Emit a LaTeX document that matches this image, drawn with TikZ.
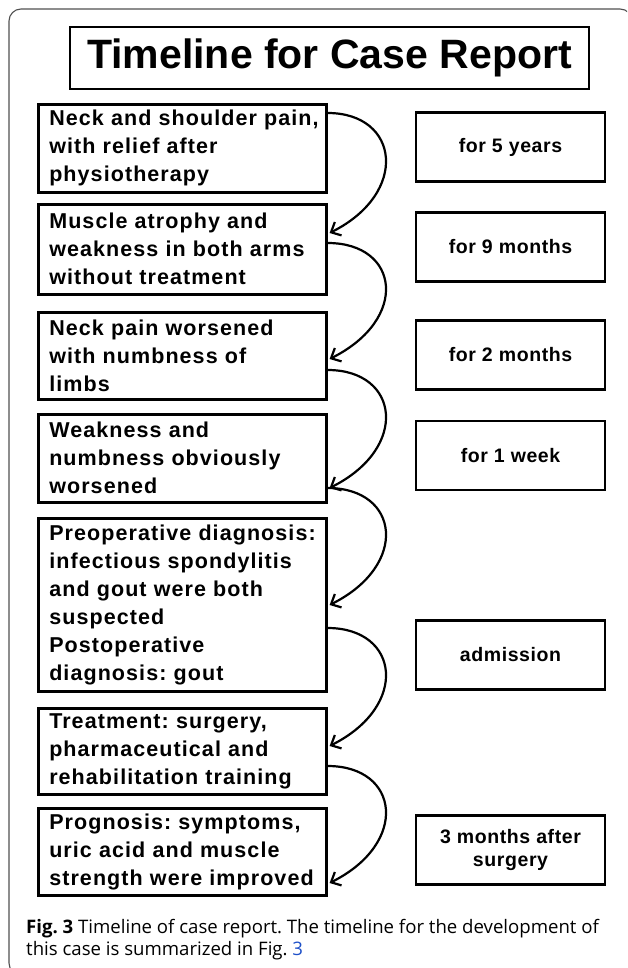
\documentclass[tikz,border=0pt]{standalone}
\usepackage{fontspec}
\setmainfont{Liberation Sans}
\newfontfamily\boxfont[LetterSpace=5]{Liberation Sans}
\newfontfamily\rfont[LetterSpace=3]{Liberation Sans}
\newfontfamily\capfont{Open Sans}
\usetikzlibrary{arrows.meta,calc}
\definecolor{linkblue}{RGB}{30,80,200}
\definecolor{framegray}{RGB}{80,80,80}
\frenchspacing
\tikzset{
  lbox/.style={draw, line width=2.6pt, anchor=north west, minimum width=288pt,
    text width=266pt, inner xsep=11pt, inner ysep=0pt, align=left,
    font={\boxfont\bfseries\fontsize{21.5}{28}\selectfont}},
  rbox/.style={draw, line width=2.6pt, minimum width=189pt, minimum height=69pt,
    inner sep=0pt, align=center, font={\rfont\bfseries\fontsize{19.5}{23}\selectfont}},
  titlebox/.style={draw, line width=2.6pt, minimum width=519pt, minimum height=62pt,
    inner sep=0pt, font={\bfseries\fontsize{41}{48}\selectfont}},
  conn/.style={line width=2.2pt, -{Straight Barb[length=8pt,width=15pt]}},
  captext/.style={anchor=base west, inner sep=0pt, font={\capfont\fontsize{18.6}{22}\selectfont}}
}
\newcommand{\Ln}[1]{\mbox{#1}}
\begin{document}
\begin{tikzpicture}[x=1pt,y=-1pt]
\useasboundingbox (0,0) rectangle (627,968);
\clip (0,0) rectangle (627,968);
\draw[framegray, line width=1.1pt, rounded corners=12pt] (9,9) rectangle (632,975);

\node[titlebox] (title) at (329.5,58) {Timeline for Case Report};

\node[lbox, minimum height=88pt] (b1) at (37,103) {\Ln{Neck and shoulder pain,}\\\Ln{with relief after}\\\Ln{physiotherapy}};
\node[lbox, minimum height=90pt] (b2) at (37,203) {\Ln{Muscle atrophy and}\\\Ln{weakness in both arms}\\\Ln{without treatment}};
\node[lbox, minimum height=87pt] (b3) at (37,311) {\Ln{Neck pain worsened}\\\Ln{with numbness of}\\\Ln{limbs}};
\node[lbox, minimum height=88pt] (b4) at (37,413) {\Ln{Weakness and}\\\Ln{numbness obviously}\\\Ln{worsened}};
\node[lbox, minimum height=173pt] (b5) at (37,517) {\Ln{Preoperative diagnosis:}\\\Ln{infectious spondylitis}\\\Ln{and gout were both}\\\Ln{suspected}\\\Ln{Postoperative}\\\Ln{diagnosis: gout}};
\node[lbox, minimum height=86pt] (b6) at (37,707) {\Ln{Treatment: surgery,}\\\Ln{pharmaceutical and}\\\Ln{rehabilitation training}};
\node[lbox, minimum height=87pt] (b7) at (37,807) {\Ln{Prognosis: symptoms,}\\\Ln{uric acid and muscle}\\\Ln{strength were improved}};

\node[rbox] (r1) at (510.5,147) {for 5 years};
\node[rbox] (r2) at (510.5,247) {for 9 months};
\node[rbox] (r3) at (510.5,355) {for 2 months};
\node[rbox] (r4) at (510.5,455.5) {for 1 week};
\node[rbox] (r5) at (510.5,655) {admission};
\node[rbox] (r6) at (510.5,850) {3 months after\\surgery};

\draw[conn] ($(b1.north east)+(0,10)$) .. controls +(72,0) and +(80,-40) .. ($(b2.north east)+(2,30)$);
\draw[conn] ($(b2.north east)+(0,40)$) .. controls +(72,0) and +(80,-40) .. ($(b3.north east)+(2,48)$);
\draw[conn] ($(b3.north east)+(0,59)$) .. controls +(72,0) and +(80,-40) .. ($(b4.north east)+(2,75)$);
\draw[conn] ($(b4.north east)+(0,75)$) .. controls +(72,0) and +(80,-40) .. ($(b5.north east)+(2,88)$);
\draw[conn] ($(b5.north east)+(0,111)$) .. controls +(72,0) and +(80,-40) .. ($(b6.north east)+(2,39)$);
\draw[conn] ($(b6.north east)+(0,59)$) .. controls +(72,0) and +(80,-40) .. ($(b7.north east)+(2,76)$);

\node[captext] (cap1) at (26,933) {\textbf{Fig. 3} Timeline of case report. The timeline for the development of};
\node[captext] (cap2) at (26,955) {this case is summarized in Fig. \textcolor{linkblue}{3}};
\end{tikzpicture}
\end{document}
